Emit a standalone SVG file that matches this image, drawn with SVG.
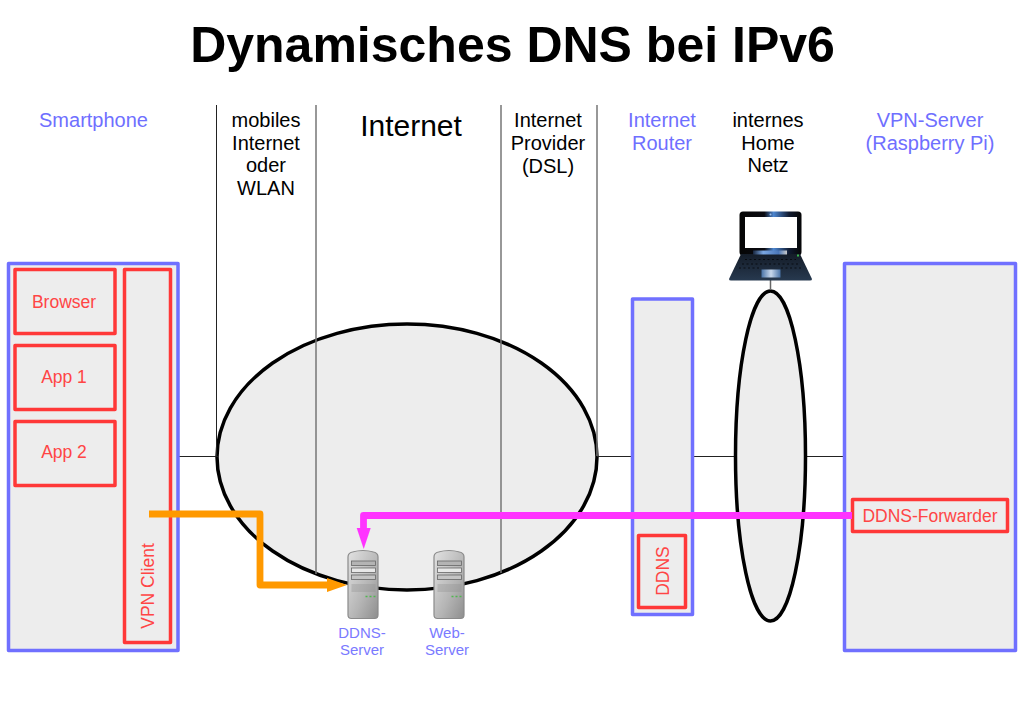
<svg xmlns="http://www.w3.org/2000/svg" width="1024" height="724" viewBox="0 0 1024 724">
<style>
text{font-family:"Liberation Sans",Arial,sans-serif;text-anchor:middle}
.t{font-size:20px;fill:#000}
.b{font-size:20px;fill:#6f6fff}
.r{font-size:17.500px;fill:#ff4545}
.s{font-size:15px;fill:#7a7aff}
.bb{fill:#ededed;stroke:#7070ff;stroke-width:3.500;stroke-linejoin:round}
.rb{fill:#ededed;stroke:#ff3838;stroke-width:3.500;stroke-linejoin:round}
.k{fill:#ededed;stroke:#000;stroke-width:3.500}
.l{stroke:#222;stroke-width:1;fill:none}
.g{stroke:#777;stroke-width:1.500;fill:none}
</style>
<defs>
<linearGradient id="sv" x1="0" x2="1" y1="0" y2="1"><stop offset="0" stop-color="#e2e2e2"/><stop offset=".6" stop-color="#b4b4b4"/><stop offset="1" stop-color="#8e8e8e"/></linearGradient>
<linearGradient id="scr" x1="0" x2="1"><stop offset="0" stop-color="#050505"/><stop offset=".4" stop-color="#0a0a10"/><stop offset=".55" stop-color="#4d86d0"/><stop offset=".8" stop-color="#101a30"/><stop offset="1" stop-color="#050505"/></linearGradient>
<linearGradient id="hinge" x1="0" x2="1"><stop offset="0" stop-color="#16243c"/><stop offset=".3" stop-color="#7ba7e2"/><stop offset=".75" stop-color="#4a76b8"/><stop offset="1" stop-color="#c8c8c8"/></linearGradient>
<linearGradient id="kb" x1="0" x2="0" y1="0" y2="1"><stop offset="0" stop-color="#141c28"/><stop offset="1" stop-color="#27394f"/></linearGradient>
<linearGradient id="pad" x1="0" x2="1"><stop offset="0" stop-color="#4a74a8"/><stop offset=".5" stop-color="#c8d8ec"/><stop offset="1" stop-color="#4a74a8"/></linearGradient>
<g id="server">
<path d="M0.500 7Q0.500 3 5 2Q15.500 -1 26 2Q30.500 3 30.500 7V65Q30.500 68.500 27 68.500H4Q0.500 68.500 0.500 65Z" fill="url(#sv)" stroke="#8a8a8a" stroke-width="1.200"/>
<rect x="4" y="11" width="24" height="4.500" fill="#b4b4b4" stroke="#666" stroke-width=".8"/>
<rect x="4" y="18" width="24" height="4.500" fill="#e8e8e8" stroke="#666" stroke-width=".8"/>
<rect x="4" y="25" width="24" height="4.500" fill="#c4c4c4" stroke="#666" stroke-width=".8"/>
<path d="M4 35h24M4 37h24M4 39h24M4 41h24" stroke="#8a8a8a" stroke-width=".6"/>
<path d="M18 46.500h2M22 46.500h2M26 46.500h2" stroke="#4fb84f" stroke-width="1.600"/>
</g>
</defs>
<rect width="1024" height="724" fill="#fff"/>
<text x="512.500" y="62" font-size="50" font-weight="bold" fill="#000">Dynamisches DNS bei IPv6</text>
<g id="labels">
<text class="b" x="93.500" y="127">Smartphone</text>
<text class="t" x="266" y="127">mobiles</text><text class="t" x="266" y="150">Internet</text><text class="t" x="266" y="172">oder</text><text class="t" x="266" y="195">WLAN</text>
<text x="411" y="136" font-size="30" fill="#000">Internet</text>
<text class="t" x="548" y="127">Internet</text><text class="t" x="548" y="150">Provider</text><text class="t" x="548" y="173">(DSL)</text>
<text class="b" x="662" y="127">Internet</text><text class="b" x="662" y="150">Router</text>
<text class="t" x="768" y="127">internes</text><text class="t" x="768" y="150">Home</text><text class="t" x="768" y="172">Netz</text>
<text class="b" x="930" y="127">VPN-Server</text><text class="b" x="930" y="150">(Raspberry Pi)</text>
</g>
<g id="internet"><ellipse class="k" cx="407" cy="457" rx="190" ry="133"/></g>
<g id="connectors">
<path class="l" d="M216.500 105V456M178 456.500H218M597 456.500H633M693 456.500H736M805 456.500H846"/>
<path class="g" d="M316 105V574M501 105V573M597 105V456M115 305.500H125M115 378.500H125M115 452.500H125"/>
</g>
<g id="smartphone"><rect class="bb" x="8.500" y="263.500" width="169.500" height="387"/></g>
<g id="browser"><rect class="rb" x="15" y="269.500" width="100" height="64"/><text class="r" x="64" y="308">Browser</text></g>
<g id="app1"><rect class="rb" x="15" y="345.500" width="100" height="64"/><text class="r" x="64" y="383">App 1</text></g>
<g id="app2"><rect class="rb" x="15" y="421.500" width="100" height="64"/><text class="r" x="64" y="458">App 2</text></g>
<g id="vpn-client"><rect class="rb" x="124.500" y="269.500" width="46" height="373"/><text class="r" transform="translate(154 586) rotate(-90)">VPN Client</text></g>
<g id="router"><rect class="bb" x="632.500" y="299" width="60" height="315.500"/></g>
<g id="ddns"><rect class="rb" x="638.500" y="535.500" width="47" height="72"/><text class="r" transform="translate(668.500 571) rotate(-90)">DDNS</text></g>
<g id="home-net"><ellipse class="k" cx="770.500" cy="456" rx="35" ry="165"/></g>
<g id="vpn-server"><rect class="bb" x="844.500" y="263.500" width="171" height="387"/></g>
<g id="forwarder"><rect class="rb" x="852.500" y="499.500" width="155" height="32"/><text class="r" x="930" y="521.500">DDNS-Forwarder</text></g>
<g id="flows">
<path d="M149 514H260V585H330" fill="none" stroke="#ff9900" stroke-width="6.800" stroke-linejoin="round"/>
<path d="M347 585L327 578V592Z" fill="#ff9900"/>
<path d="M852 515.500H363.500V530" fill="none" stroke="#ff33ff" stroke-width="6.800" stroke-linejoin="round"/>
<path d="M363.700 549L356.700 528H370.700Z" fill="#ff33ff"/>
</g>
<g id="ddns-server"><use href="#server" x="347.500" y="550"/><text class="s" x="362" y="638">DDNS-</text><text class="s" x="362" y="655">Server</text></g>
<g id="web-server"><use href="#server" x="433.500" y="550"/><text class="s" x="447" y="638">Web-</text><text class="s" x="447" y="655">Server</text></g>
<g id="laptop">
<path d="M770.500 280V290" stroke="#666" stroke-width="1.500"/>
<rect x="739.500" y="211.500" width="62" height="44" rx="3.500" fill="url(#scr)"/>
<rect x="745" y="217" width="52" height="31" fill="#fff"/>
<circle cx="770.500" cy="214.500" r="1" fill="#9cc0ee"/>
<path d="M741 254H800L812 279Q812 280.500 810 280.500H731Q729 280.500 729 279Z" fill="url(#kb)"/>
<rect x="753" y="250.500" width="34" height="4" fill="url(#hinge)"/>
<path d="M745 259.500H796M742 264H799M739 268H761M781 268H802" stroke="#000" stroke-width="1.200" stroke-dasharray="2 2.500" opacity=".65"/>
<rect x="761.500" y="269.500" width="19" height="8" fill="url(#pad)"/>
<rect x="797" y="254.500" width="2" height="2" fill="#3bb54a"/>
</g>
</svg>
